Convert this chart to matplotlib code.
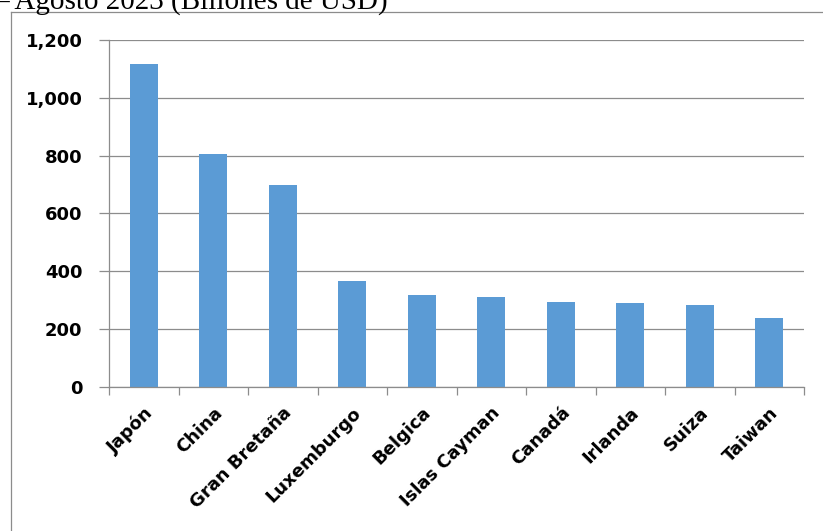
import matplotlib.pyplot as plt
from matplotlib.lines import Line2D

# tenedores de bonos del tesoro - agosto 2023
paises = ['Japón', 'China', 'Gran Bretaña', 'Luxemburgo', 'Belgica',
          'Islas Cayman', 'Canadá', 'Irlanda', 'Suiza', 'Taiwan']
valores = [1116, 805, 697, 368, 319, 310, 293, 291, 284, 237]
yticks = [0, 200, 400, 600, 800, 1000, 1200]
ytick_labels = ['0', '200', '400', '600', '800', '1,000', '1,200']

gris = '#8c8c8c'
azul = '#5b9bd5'

fig = plt.figure(figsize=(8.23, 5.31), dpi=100)
ax = fig.add_axes([109/823, 144/531, (804-109)/823, (387-40)/531])

x = range(len(paises))
ax.bar(x, valores, width=0.4, color=azul, zorder=3)

ax.set_xlim(-0.5, len(paises) - 0.5)
ax.set_ylim(0, 1200)
ax.set_yticks(yticks)
ax.set_yticklabels(ytick_labels, fontsize=13, fontweight='bold')
ax.set_xticks([i + 0.5 for i in range(-1, len(paises))], minor=False)
ax.set_xticklabels([])
ax.set_xticks(list(x), minor=True)
ax.set_xticklabels(paises, minor=True, rotation=45, ha='right',
                   rotation_mode='anchor', fontsize=13, fontweight='bold')
ax.tick_params(axis='x', which='minor', length=0, pad=12)
ax.tick_params(axis='x', which='major', length=6, color=gris, width=0.9)
ax.tick_params(axis='y', length=7, color=gris, width=0.9, pad=12)

ax.grid(axis='y', color=gris, linewidth=0.9, zorder=0)
for s in ['top', 'right']:
    ax.spines[s].set_visible(False)
for s in ['left', 'bottom']:
    ax.spines[s].set_color(gris)
    ax.spines[s].set_linewidth(0.9)
    ax.spines[s].set_zorder(4)

# borde del grafico
fig.add_artist(Line2D([11/823, 11/823], [0, 1 - 12/531], color=gris, lw=0.9,
                      transform=fig.transFigure))
fig.add_artist(Line2D([11/823, 1], [1 - 12/531, 1 - 12/531], color=gris, lw=0.9,
                      transform=fig.transFigure))

fig.text(-6/823, 1 - 9/531, '– Agosto 2023 (Billones de USD)', fontsize=21,
         family='Liberation Serif', va='baseline', ha='left')

fig.savefig('out.png', dpi=100)
